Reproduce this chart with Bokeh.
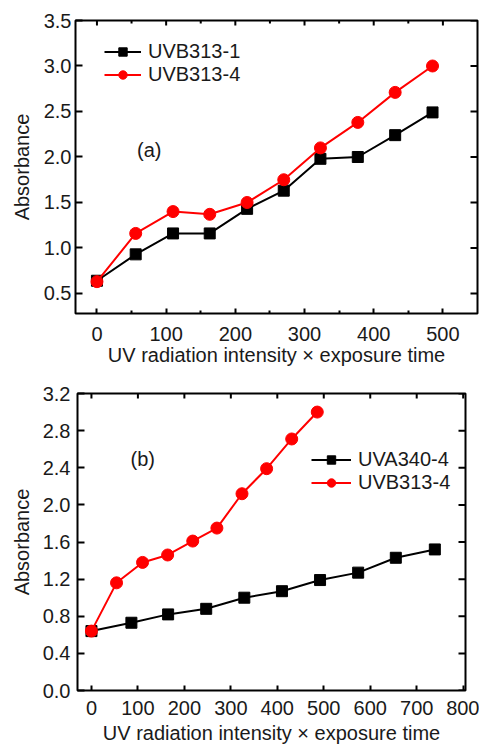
import math
from bokeh.plotting import figure
from bokeh.layouts import column, row
from bokeh.models import (FixedTicker, Legend, LegendItem, Label, Range1d, PrintfTickFormatter)
from bokeh.embed import file_html
from bokeh.resources import INLINE

# ---------------- data ----------------
a_x = [0, 56, 110, 163, 217, 270, 323, 377, 431, 485]
a_uvb313_1 = [0.64, 0.93, 1.16, 1.16, 1.43, 1.63, 1.98, 2.00, 2.24, 2.49]
a_uvb313_4 = [0.63, 1.16, 1.40, 1.37, 1.50, 1.75, 2.10, 2.38, 2.71, 3.00]

b_uva340_x = [0, 86, 165, 247, 329, 410, 492, 574, 655, 739]
b_uva340_4 = [0.64, 0.73, 0.82, 0.88, 1.00, 1.07, 1.19, 1.27, 1.43, 1.52]
b_uvb313_x = [0, 54, 110, 164, 218, 270, 324, 377, 431, 486]
b_uvb313_4 = [0.64, 1.16, 1.38, 1.46, 1.61, 1.75, 2.12, 2.39, 2.71, 3.00]

a_xticks = [0, 100, 200, 300, 400, 500]
a_xminor = [50, 150, 250, 350, 450]
a_yticks = [0.5, 1.0, 1.5, 2.0, 2.5, 3.0, 3.5]
b_xticks = [0, 100, 200, 300, 400, 500, 600, 700, 800]
b_yticks = [0.0, 0.4, 0.8, 1.2, 1.6, 2.0, 2.4, 2.8, 3.2]

x_title = "UV radiation intensity \u00d7 exposure time"
y_title = "Absorbance"

FONT = "Liberation Sans"
TXT = "#1a1a1a"
FS = "20px"


def style_axis(ax, tick_in, minor_in=0):
    ax.axis_line_color = None
    ax.major_tick_in = tick_in
    ax.major_tick_out = 0
    ax.major_tick_line_width = 2
    ax.major_tick_line_color = "black"
    if minor_in:
        ax.minor_tick_in = minor_in
        ax.minor_tick_out = 0
        ax.minor_tick_line_width = 2
        ax.minor_tick_line_color = "black"
    else:
        ax.minor_tick_line_color = None
    ax.major_label_text_font = FONT
    ax.major_label_text_color = TXT
    ax.major_label_text_font_size = FS
    ax.axis_label_text_font = FONT
    ax.axis_label_text_font_size = FS
    ax.axis_label_text_font_style = "normal"
    ax.axis_label_text_color = TXT


def make_fig(width, height, xr, yr, xt, xminor, yt, borders, x_minor_len):
    p = figure(width=width, height=height, x_range=Range1d(*xr), y_range=Range1d(*yr),
               output_backend="svg", toolbar_location=None,
               min_border_left=borders[0], min_border_right=borders[1],
               min_border_top=borders[2], min_border_bottom=borders[3])
    p.grid.visible = False
    p.outline_line_color = "black"
    p.outline_line_width = 2
    p.background_fill_color = "white"
    p.border_fill_color = "white"
    p.xaxis.ticker = FixedTicker(ticks=xt, minor_ticks=xminor)
    p.yaxis.ticker = FixedTicker(ticks=yt)
    p.yaxis.formatter = PrintfTickFormatter(format="%.1f")
    style_axis(p.xaxis[0], 5, x_minor_len if xminor else 0)
    style_axis(p.yaxis[0], 7)
    p.xaxis.axis_label = x_title
    p.yaxis.axis_label = y_title
    # inward ticks on the top and right frame edges
    top_y = [yr[1]] * len(xt)
    p.ray(x=xt, y=top_y, length=5, length_units="screen", angle=-math.pi / 2,
          line_color="black", line_width=2)
    if xminor:
        p.ray(x=xminor, y=[yr[1]] * len(xminor), length=x_minor_len, length_units="screen",
              angle=-math.pi / 2, line_color="black", line_width=2)
    p.ray(x=[xr[1]] * len(yt), y=yt, length=7, length_units="screen", angle=math.pi,
          line_color="black", line_width=2)
    return p


# ---------------- panel (a) ----------------
p1 = make_fig(479, 372, (-31, 550), (0.28, 3.5), a_xticks, a_xminor, a_yticks,
              (75, 2, 20, 59), 3)
p1.xaxis[0].major_label_standoff = 13
p1.xaxis[0].axis_label_standoff = 0
p1.yaxis[0].major_label_standoff = 4
p1.yaxis[0].axis_label_standoff = 8

l1 = p1.line(a_x, a_uvb313_1, line_color="black", line_width=2)
m1 = p1.scatter(a_x, a_uvb313_1, marker="square", size=11, fill_color="black", line_color="black")
l2 = p1.line(a_x, a_uvb313_4, line_color="red", line_width=2)
m2 = p1.scatter(a_x, a_uvb313_4, marker="circle", size=12, fill_color="red", line_color="red")

leg1 = Legend(items=[LegendItem(label="UVB313-1", renderers=[l1, m1]),
                     LegendItem(label="UVB313-4", renderers=[l2, m2])],
              location=(29, 227), padding=0, margin=0, spacing=0,
              glyph_width=37, glyph_height=21, label_standoff=7,
              label_text_font=FONT, label_text_font_size=FS, label_text_color=TXT,
              border_line_color=None, background_fill_alpha=0)
p1.add_layout(leg1)
p1.add_layout(Label(x=58, y=2.08, text="(a)", text_font=FONT, text_font_size=FS,
                    text_color=TXT, text_baseline="middle", text_align="left"))

# ---------------- panel (b) ----------------
p2 = make_fig(479, 374, (-30, 805), (0.0, 3.2), b_xticks, [], b_yticks,
              (77, 14, 21, 54), 0)
p2.xaxis[0].major_label_standoff = 10
p2.xaxis[0].axis_label_standoff = 4
p2.yaxis[0].major_label_standoff = 7
p2.yaxis[0].axis_label_standoff = 7

l3 = p2.line(b_uva340_x, b_uva340_4, line_color="black", line_width=2)
m3 = p2.scatter(b_uva340_x, b_uva340_4, marker="square", size=11, fill_color="black", line_color="black")
l4 = p2.line(b_uvb313_x, b_uvb313_4, line_color="red", line_width=2)
m4 = p2.scatter(b_uvb313_x, b_uvb313_4, marker="circle", size=12, fill_color="red", line_color="red")

leg2 = Legend(items=[LegendItem(label="UVA340-4", renderers=[l3, m3]),
                     LegendItem(label="UVB313-4", renderers=[l4, m4])],
              location=(234, 196), padding=0, margin=0, spacing=0,
              glyph_width=40, glyph_height=21, label_standoff=7,
              label_text_font=FONT, label_text_font_size=FS, label_text_color=TXT,
              border_line_color=None, background_fill_alpha=0)
p2.add_layout(leg2)
p2.add_layout(Label(x=84, y=2.49, text="(b)", text_font=FONT, text_font_size=FS,
                    text_color=TXT, text_baseline="middle", text_align="left"))

layout = column(row(p1), row(p2))
open("out.html", "w").write(file_html(layout, INLINE))
